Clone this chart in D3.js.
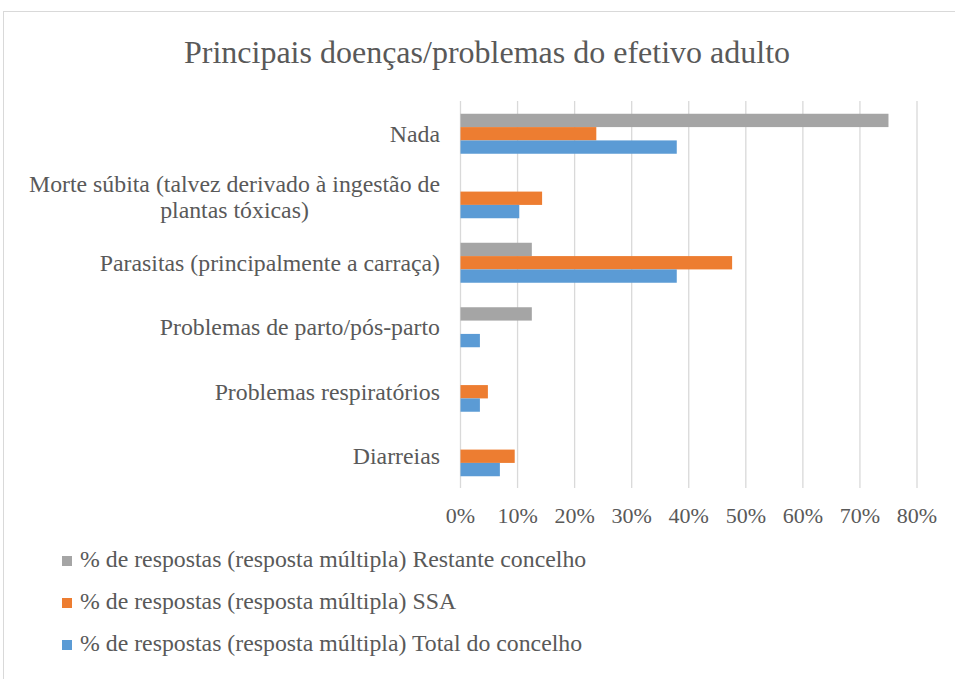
<!DOCTYPE html>
<html>
<head>
<meta charset="utf-8">
<script src="https://cdn.jsdelivr.net/npm/d3@7"></script>
<style>
  body { margin: 0; background: #fff; }
  text { font-family: "Liberation Serif", "Times New Roman", serif; fill: #595959; }
</style>
</head>
<body>
<svg id="chart" width="955" height="679"></svg>
<script>
// categories, top to bottom ('|' marks a line break)
const categories = [
    "Nada",
    "Morte súbita (talvez derivado à ingestão de|plantas tóxicas)",
    "Parasitas (principalmente a carraça)",
    "Problemas de parto/pós-parto",
    "Problemas respiratórios",
    "Diarreias"
];
const seriesNames = [
    "% de respostas (resposta múltipla) Restante concelho",
    "% de respostas (resposta múltipla) SSA",
    "% de respostas (resposta múltipla) Total do concelho"
];
const restante = [0.75, 0, 0.125, 0.125, 0, 0];
const ssa = [0.238, 0.143, 0.476, 0, 0.048, 0.095];
const total = [0.379, 0.103, 0.379, 0.034, 0.034, 0.069];
const colors = ["#a5a5a5", "#ed7d31", "#5b9bd5"];
const ticks = [0, 0.1, 0.2, 0.3, 0.4, 0.5, 0.6, 0.7, 0.8];

const svg = d3.select('#chart');

// chart frame
svg.append('rect')
    .attr('x', 3.5).attr('y', 11.5)
    .attr('width', 970).attr('height', 700)
    .attr('fill', 'none')
    .attr('stroke', '#d9d9d9')
    .attr('stroke-width', 1);

svg.append('text')
    .attr('x', 487).attr('y', 63)
    .attr('text-anchor', 'middle')
    .style('font-size', '32px')
    .text('Principais doenças/problemas do efetivo adulto');

const x = d3.scaleLinear().domain([0, 0.8]).range([460.5, 917]);
const y = d3.scaleBand().domain(categories).range([101.5, 488.5])
    .paddingInner(0.38).paddingOuter(0.19);
const ySub = d3.scaleBand().domain(d3.range(3)).range([0, y.bandwidth()]);

// gridlines
svg.append('g').selectAll('line')
    .data(ticks)
    .enter()
    .append('line')
    .attr('x1', d => x(d)).attr('x2', d => x(d))
    .attr('y1', 101).attr('y2', 488)
    .attr('stroke', '#d9d9d9')
    .attr('stroke-width', 1.3);

// bars
const series = [restante, ssa, total];
series.forEach((vals, s) => {
    svg.append('g').selectAll('rect')
        .data(vals)
        .enter()
        .append('rect')
        .attr('x', x(0))
        .attr('y', (d, i) => y(categories[i]) + ySub(s))
        .attr('width', d => x(d) - x(0))
        .attr('height', ySub.bandwidth())
        .attr('fill', colors[s]);
});

// tick labels
svg.append('g').selectAll('text')
    .data(ticks)
    .enter()
    .append('text')
    .attr('x', d => x(d)).attr('y', 523)
    .attr('text-anchor', 'middle')
    .style('font-size', '22px')
    .text(d => Math.round(d * 100) + '%');

// category labels (two lines are centred on each other, block right aligned)
categories.forEach(c => {
    const lines = c.split('|');
    const cy = y(c) + y.bandwidth() / 2;
    const g = svg.append('g');
    const t = g.append('text')
        .attr('text-anchor', 'end')
        .style('font-size', '23.8px');
    if (lines.length == 1) {
        t.attr('x', 440).attr('y', cy + 8).text(lines[0]);
    } else {
        t.attr('x', 440).attr('y', cy - 6).text(lines[0]);
        const w = t.node().getComputedTextLength();
        g.append('text')
            .attr('x', 440 - w / 2).attr('y', cy + 20)
            .attr('text-anchor', 'middle')
            .style('font-size', '23.8px')
            .text(lines[1]);
    }
});

// legend
const legendY = [561, 603, 645];
seriesNames.forEach((name, i) => {
    svg.append('rect')
        .attr('x', 62).attr('y', legendY[i] - 5)
        .attr('width', 10).attr('height', 10)
        .attr('fill', colors[i]);
    svg.append('text')
        .attr('x', 80).attr('y', legendY[i] + 6)
        .style('font-size', '23.8px')
        .text(name);
});
</script>
</body>
</html>
